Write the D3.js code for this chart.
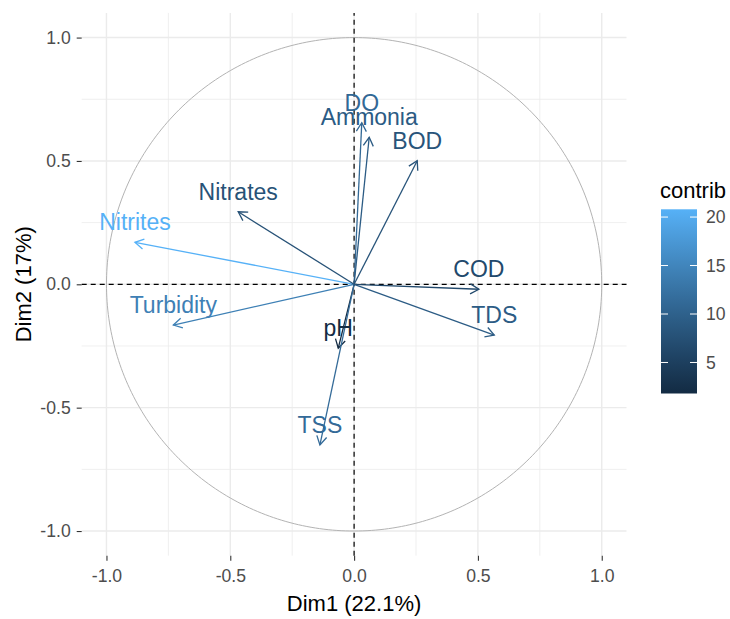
<!DOCTYPE html>
<html>
<head>
<meta charset="utf-8">
<script src="https://cdn.jsdelivr.net/npm/d3@7"></script>
<style>
  body { margin: 0; background: #fff; }
  svg { font-family: "Liberation Sans", Arial, sans-serif; }
</style>
</head>
<body>
<svg id="chart" width="730" height="619"></svg>
<script>
// ---- data ----
const variables = ["Nitrites", "Nitrates", "Turbidity", "DO", "Ammonia", "BOD", "COD", "TDS", "pH", "TSS"];
const dim1 = [-0.885, -0.468, -0.730, 0.031, 0.061, 0.255, 0.504, 0.566, -0.064, -0.138];
const dim2 = [0.170, 0.294, -0.165, 0.655, 0.596, 0.501, -0.020, -0.206, -0.259, -0.651];
const contrib = [20.8, 7.8, 14.3, 11.0, 9.2, 8.1, 6.5, 9.3, 1.8, 11.3];
const axisTicks = [-1.0, -0.5, 0.0, 0.5, 1.0];
const axisTickLabels = ["-1.0", "-0.5", "0.0", "0.5", "1.0"];
const minorTicks = [-0.75, -0.25, 0.25, 0.75];
const legendTicks = [5, 10, 15, 20];
const xTitle = "Dim1 (22.1%)";
const yTitle = "Dim2 (17%)";
const legendTitle = "contrib";

const svg = d3.select("#chart");
const x = d3.scaleLinear().domain([-1.1, 1.1]).range([81.7, 626.5]);
const y = d3.scaleLinear().domain([-1.1, 1.1]).range([555.7, 12.9]);
const cmin = d3.min(contrib), cmax = d3.max(contrib);
const color = d3.scaleLinear().domain([cmin, cmax]).range(["#132B43", "#56B1F7"]).interpolate(d3.interpolateLab);

// grid
const g = svg.append("g");
g.selectAll(".minx").data(minorTicks).join("line")
  .attr("x1", d => x(d)).attr("x2", d => x(d)).attr("y1", y(-1.1)).attr("y2", y(1.1))
  .attr("stroke", "#ebebeb").attr("stroke-width", 0.8);
g.selectAll(".miny").data(minorTicks).join("line")
  .attr("y1", d => y(d)).attr("y2", d => y(d)).attr("x1", x(-1.1)).attr("x2", x(1.1))
  .attr("stroke", "#ebebeb").attr("stroke-width", 0.8);
g.selectAll(".majx").data(axisTicks).join("line")
  .attr("x1", d => x(d)).attr("x2", d => x(d)).attr("y1", y(-1.1)).attr("y2", y(1.1))
  .attr("stroke", "#ebebeb").attr("stroke-width", 1.4);
g.selectAll(".majy").data(axisTicks).join("line")
  .attr("y1", d => y(d)).attr("y2", d => y(d)).attr("x1", x(-1.1)).attr("x2", x(1.1))
  .attr("stroke", "#ebebeb").attr("stroke-width", 1.4);

// circle
const angles = d3.range(0, 361, 1).map(a => a * Math.PI / 180);
svg.append("path")
  .attr("d", d3.line().x(a => x(Math.cos(a))).y(a => y(Math.sin(a)))(angles))
  .attr("fill", "none").attr("stroke", "#b3b3b3").attr("stroke-width", 1);

// dashed axes
svg.append("line").attr("x1", x(0)).attr("x2", x(0)).attr("y1", y(-1.1)).attr("y2", y(1.1))
  .attr("stroke", "#000").attr("stroke-width", 1.2).attr("stroke-dasharray", "5,4");
svg.append("line").attr("y1", y(0)).attr("y2", y(0)).attr("x1", x(-1.1)).attr("x2", x(1.1))
  .attr("stroke", "#000").attr("stroke-width", 1.2).attr("stroke-dasharray", "5,4");

// axes
const fmt = (d, i) => axisTickLabels[i];
const xa = svg.append("g").attr("transform", `translate(0,${y(-1.1)})`)
  .call(d3.axisBottom(x).tickValues(axisTicks).tickFormat(fmt).tickSize(5).tickPadding(5));
const ya = svg.append("g").attr("transform", `translate(${x(-1.1)},0)`)
  .call(d3.axisLeft(y).tickValues(axisTicks).tickFormat(fmt).tickSize(5).tickPadding(5));
[xa, ya].forEach(a => {
  a.select(".domain").remove();
  a.selectAll(".tick line").attr("stroke", "#333").attr("stroke-width", 1.1);
  a.selectAll(".tick text").attr("fill", "#4d4d4d").style("font-size", "17.6px")
    .style("font-family", "Liberation Sans, Arial, sans-serif");
});
xa.selectAll(".tick text").attr("dy", "0.9em");
ya.selectAll(".tick text").attr("dx", "-1px");

// arrows
const idx = d3.range(variables.length);
const arr = svg.append("g");
idx.forEach(i => {
  const x0 = x(0), y0 = y(0), x1 = x(dim1[i]), y1 = y(dim2[i]);
  const ang = Math.atan2(y1 - y0, x1 - x0);
  const L = 10, a = Math.PI / 6;
  const c = color(contrib[i]);
  arr.append("line").attr("x1", x0).attr("y1", y0).attr("x2", x1).attr("y2", y1)
    .attr("stroke", c).attr("stroke-width", 1.3);
  const p1 = [x1 - L * Math.cos(ang - a), y1 - L * Math.sin(ang - a)];
  const p2 = [x1 - L * Math.cos(ang + a), y1 - L * Math.sin(ang + a)];
  arr.append("path").attr("d", `M${p1[0]},${p1[1]}L${x1},${y1}L${p2[0]},${p2[1]}`)
    .attr("fill", "none").attr("stroke", c).attr("stroke-width", 1.3);
});

// labels
svg.append("g").selectAll("text").data(idx).join("text")
  .attr("x", i => x(dim1[i])).attr("y", i => y(dim2[i]) - 12)
  .attr("text-anchor", "middle").style("font-size", "23px")
  .attr("fill", i => color(contrib[i])).text(i => variables[i]);

// axis titles
svg.append("text").attr("x", x(0)).attr("y", 611).attr("text-anchor", "middle")
  .style("font-size", "22px").attr("fill", "#000").text(xTitle);
svg.append("text").attr("transform", `translate(31,${y(0)}) rotate(-90)`).attr("text-anchor", "middle")
  .style("font-size", "22px").attr("fill", "#000").text(yTitle);

// legend
const ly = d3.scaleLinear().domain([cmin, cmax]).range([393.5, 209.3]);
const defs = svg.append("defs");
const grad = defs.append("linearGradient").attr("id", "cgrad")
  .attr("x1", 0).attr("y1", 1).attr("x2", 0).attr("y2", 0);
d3.range(0, 1.0001, 0.1).forEach(t => {
  grad.append("stop").attr("offset", t).attr("stop-color", color(cmin + t * (cmax - cmin)));
});
const lx0 = 661, lw = 36;
svg.append("rect").attr("x", lx0).attr("y", ly(cmax)).attr("width", lw)
  .attr("height", ly(cmin) - ly(cmax)).attr("fill", "url(#cgrad)");
const lt = svg.append("g");
legendTicks.forEach(v => {
  lt.append("line").attr("x1", lx0).attr("x2", lx0 + 7).attr("y1", ly(v)).attr("y2", ly(v))
    .attr("stroke", "#fff").attr("stroke-width", 1);
  lt.append("line").attr("x1", lx0 + lw - 7).attr("x2", lx0 + lw).attr("y1", ly(v)).attr("y2", ly(v))
    .attr("stroke", "#fff").attr("stroke-width", 1);
  lt.append("text").attr("x", 706).attr("y", ly(v)).attr("dy", "0.35em")
    .style("font-size", "17.6px").attr("fill", "#4d4d4d").text(v);
});
svg.append("text").attr("x", 660).attr("y", 198).style("font-size", "22px")
  .attr("fill", "#000").text(legendTitle);
</script>
</body>
</html>
